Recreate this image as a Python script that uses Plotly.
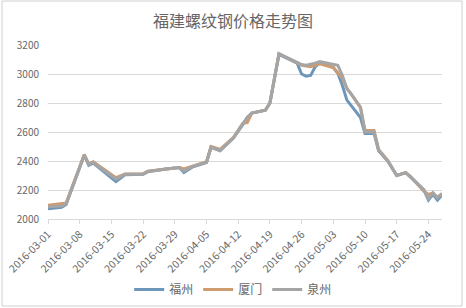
import plotly.graph_objects as go

dates = ["2016-03-01","2016-03-04","2016-03-05","2016-03-09","2016-03-10","2016-03-11",
         "2016-03-16","2016-03-18","2016-03-22","2016-03-23","2016-03-27","2016-03-30",
         "2016-03-31","2016-04-02","2016-04-05","2016-04-06","2016-04-08","2016-04-11",
         "2016-04-13","2016-04-14","2016-04-15","2016-04-18","2016-04-19","2016-04-21",
         "2016-04-25","2016-04-26","2016-04-27","2016-04-28","2016-04-29","2016-04-30",
         "2016-05-03","2016-05-04","2016-05-05","2016-05-06","2016-05-07","2016-05-09",
         "2016-05-10","2016-05-12","2016-05-13","2016-05-15","2016-05-17","2016-05-19",
         "2016-05-20","2016-05-23","2016-05-24","2016-05-25","2016-05-26","2016-05-27"]

fuzhou = [2070,2080,2100,2440,2370,2385,2258,2305,2308,2325,2345,2355,2320,2360,2390,2495,
          2470,2560,2650,2700,2730,2750,2800,3135,3075,3000,2985,2990,3050,3075,3045,3005,
          2920,2820,2780,2700,2590,2590,2470,2400,2300,2320,2290,2200,2130,2170,2130,2165]
xiamen = [2095,2105,2110,2445,2380,2395,2285,2310,2312,2330,2345,2355,2345,2365,2395,2500,
          2480,2565,2660,2665,2730,2750,2800,3140,3080,3060,3055,3050,3060,3070,3045,3010,
          2970,2900,2860,2770,2610,2610,2480,2405,2300,2320,2295,2190,2170,2180,2150,2175]
quanzhou = [2085,2090,2105,2440,2375,2390,2275,2308,2310,2328,2345,2355,2330,2362,2392,2495,
            2472,2562,2655,2700,2730,2750,2800,3140,3080,3065,3060,3065,3075,3085,3070,3060,
            2990,2900,2860,2770,2600,2600,2475,2402,2300,2320,2292,2200,2140,2180,2145,2175]

series = [("福州", fuzhou, "#6D97BA"), ("厦门", xiamen, "#CF9C72"), ("泉州", quanzhou, "#A5A5A5")]

font_cn = "Noto Sans CJK SC"
fig = go.Figure()
for name, vals, col in series:
    fig.add_trace(go.Scatter(x=dates, y=vals, name=name, mode="lines",
                             line=dict(color=col, width=3)))

fig.update_layout(
    width=466, height=308,
    margin=dict(l=48, r=24, t=45, b=89, autoexpand=False),
    paper_bgcolor="white", plot_bgcolor="white",
    title=dict(text="福建螺纹钢价格走势图", x=0.5, xanchor="center", y=1-21/308, yanchor="middle",
               font=dict(family=font_cn, size=16, color="#666666")),
    font=dict(family=font_cn, color="#666666", size=10),
    showlegend=True,
    legend=dict(orientation="h", x=0.47, xanchor="center", y=-0.405, yanchor="middle",
                font=dict(family=font_cn, size=12, color="#666666"), itemwidth=30,
                tracegroupgap=0),
    xaxis=dict(type="date", range=["2016-03-01", "2016-05-27"], automargin=False,
               tick0="2016-03-01", dtick=7*86400000, tickformat="%Y-%m-%d",
               tickangle=-45, tickfont=dict(size=10.5, color="#666666"),
               showgrid=False, showline=True, linecolor="#D9D9D9", linewidth=1,
               ticks="outside", ticklen=4, tickcolor="#D9D9D9", zeroline=False),
    yaxis=dict(range=[2000, 3200], dtick=200, showgrid=True, gridcolor="#D9D9D9",
               gridwidth=1, zeroline=False, showline=False, automargin=False,
               tickfont=dict(size=10, color="#666666"), ticklabelstandoff=8),
    shapes=[dict(type="rect", xref="paper", yref="paper",
                 x0=-46/394, x1=1+20/394, y0=-87/174, y1=1+44/174,
                 line=dict(color="#D0D0D0", width=1))],
)

fig.write_html("out.html")
